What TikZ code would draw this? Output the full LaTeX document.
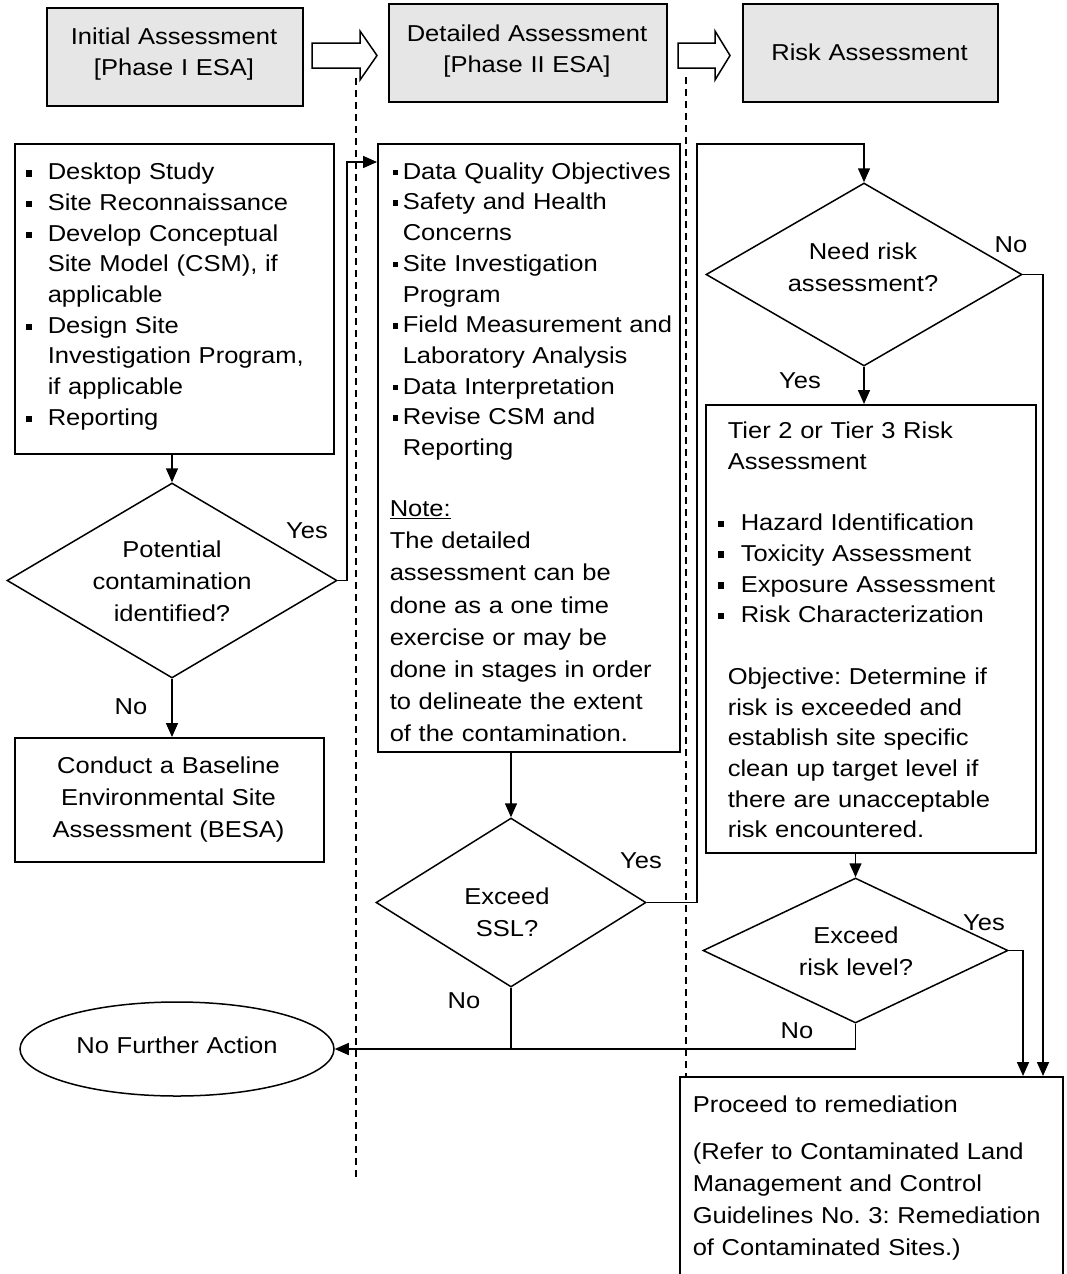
\documentclass[tikz,border=0pt]{standalone}
\usepackage{fontspec}
\setmainfont{Liberation Sans}[FakeStretch=1.11]
\usetikzlibrary{shapes.geometric,arrows.meta,calc}
\definecolor{hdrgray}{RGB}{230,230,230}
\frenchspacing
\newcommand{\fs}{\rule{0pt}{18pt}}
\newcommand{\bulA}{\noindent\hangindent=22pt\hangafter=1\makebox[22pt][l]{\rule[3pt]{6.5pt}{6.5pt}}}
\newcommand{\bulB}{\noindent\hangindent=10pt\hangafter=1\makebox[10pt][l]{\rule[4pt]{5.5pt}{5.5pt}}}
\newcommand{\bulD}{\noindent\makebox[23pt][l]{\rule[3.5pt]{6.5pt}{6.5pt}}}
\begin{document}
\begin{tikzpicture}[x=1pt,y=-1pt,
  line width=1.5pt,
  box/.style={draw, line width=1.5pt, rectangle, inner sep=0pt, anchor=north west},
  hdr/.style={box, fill=hdrgray},
  dia/.style={draw, line width=1.5pt, diamond, inner sep=0pt},
  txt/.style={inner sep=0pt, align=left, anchor=north west, text width=400pt, font=\frenchspacing\fontsize{23}{30.7}\selectfont},
  ctxt/.style={inner sep=0pt, align=center, anchor=north, text width=340pt, font=\frenchspacing\fontsize{23}{32}\selectfont},
  lbl/.style={inner sep=0pt, anchor=base, font=\fontsize{23}{28}\selectfont},
  arr/.style={-{Triangle[width=12pt,length=14pt]}},
  sep/.style={dash pattern=on 7pt off 5pt, line width=1.4pt},
  blk/.style={draw, fill=white, line width=1.5pt, line join=miter}
]
\useasboundingbox (0,0) rectangle (1066,1274);
\fill[white] (0,0) rectangle (1066,1274);
\clip (0,0) rectangle (1066,1274);

% phase separators
\draw[sep] (356,78) -- (356,1177);
\draw[sep] (686,77) -- (686,1076);

% header boxes
\node[hdr, minimum width=256pt, minimum height=98pt] (H1) at (46,7) {};
\node[hdr, minimum width=278pt, minimum height=98pt] (H2) at (388,3) {};
\node[hdr, minimum width=255pt, minimum height=98pt] (H3) at (742,3) {};
\node[ctxt, font=\fontsize{23}{31}\selectfont] (H1t) at (174,26) {\fs Initial Assessment\\{}[Phase I ESA]};
\node[ctxt, font=\fontsize{23}{31}\selectfont] (H2t) at (527,23) {\fs Detailed Assessment\\{}[Phase II ESA]};
\node[ctxt] (H3t) at (869.5,42) {\fs Risk Assessment};

% block arrows
\draw[blk] (312,43) -- (360,43) -- (360,31) -- (377,55.5) -- (360,80) -- (360,68) -- (312,68) -- cycle;
\draw[blk] (678,43) -- (715,43) -- (715,31) -- (730,55.5) -- (715,80) -- (715,68) -- (678,68) -- cycle;

% column 1
\node[box, minimum width=319pt, minimum height=310pt] (A) at (14,143) {};
\node[txt] (At) at (25,161) {%
\bulA\fs Desktop Study\par
\bulA Site Reconnaissance\par
\bulA Develop Conceptual\newline Site Model (CSM), if\newline applicable\par
\bulA Design Site\newline Investigation Program,\newline if applicable\par
\bulA Reporting\par};

\node[dia, minimum width=330pt, minimum height=195pt] (d1) at (172,580.5) {};
\node[ctxt] (d1t) at (172,539) {\fs Potential\\ contamination\\ identified?};

\node[box, minimum width=309pt, minimum height=124pt] (C) at (14,737) {};
\node[ctxt] (Ct) at (168.5,755) {\fs Conduct a Baseline\\ Environmental Site\\ Assessment (BESA)};

\node[draw, ellipse, line width=1.5pt, inner sep=0pt, minimum width=314pt, minimum height=94pt] (E) at (177,1049) {};
\node[ctxt] (Et) at (177,1035) {\fs No Further Action};

% column 2
\node[box, minimum width=302pt, minimum height=608pt] (B) at (377,143) {};
\node[txt] (Bt) at (392,160.5) {%
\bulB\fs Data Quality Objectives\par
\bulB Safety and Health\newline Concerns\par
\bulB Site Investigation\newline Program\par
\bulB Field Measurement and\newline Laboratory Analysis\par
\bulB Data Interpretation\par
\bulB Revise CSM and\newline Reporting\par};
\node[txt, font=\frenchspacing\fontsize{23}{32.1}\selectfont] (Bn) at (389,498) {%
\fs\underline{Note:}\newline The detailed\newline assessment can be\newline done as a one time\newline exercise or may be\newline done in stages in order\newline to delineate the extent\newline of the contamination.\par};

\node[dia, minimum width=270pt, minimum height=169pt] (d2) at (511,902.5) {};
\node[ctxt] (d2t) at (507,886) {\fs Exceed\\ SSL?};

% column 3
\node[dia, minimum width=316pt, minimum height=183pt] (d3) at (864,274.5) {};
\node[ctxt] (d3t) at (863,241) {\fs Need risk\\ assessment?};

\node[box, minimum width=330pt, minimum height=448pt] (D) at (705,404) {};
\node[txt] (Dt1) at (727,420) {\fs Tier 2 or Tier 3 Risk\newline Assessment\par};
\node[txt] (Dt2) at (717,512) {%
\bulD\fs Hazard Identification\par
\bulD Toxicity Assessment\par
\bulD Exposure Assessment\par
\bulD Risk Characterization\par};
\node[txt] (Dt3) at (727,665.6) {\fs Objective: Determine if\newline risk is exceeded and\newline establish site specific\newline clean up target level if\newline there are unacceptable\newline risk encountered.\par};

\node[dia, minimum width=305pt, minimum height=145pt] (d4) at (855.5,950.5) {};
\node[ctxt] (d4t) at (856,925) {\fs Exceed\\ risk level?};

\node[box, minimum width=383pt, minimum height=260pt] (P) at (679,1076) {};
\node[txt] (Pt1) at (692,1094) {\fs Proceed to remediation\par};
\node[txt, font=\frenchspacing\fontsize{23}{32}\selectfont] (Pt2) at (692,1141) {\fs (Refer to Contaminated Land\newline Management and Control\newline Guidelines No. 3: Remediation\newline of Contaminated Sites.)\par};

% connectors
\coordinate (y1) at (347,162);
\coordinate (y2) at (697,144);
\coordinate (pinA) at (1023,0);
\coordinate (pinB) at (1043,0);

\draw[arr] (d1.north |- A.south) -- (d1.north);
\draw[arr] (d1.south) -- (d1.south |- C.north);
\draw[arr] (d1.east) -| (y1) -- (y1 -| B.west);
\draw[arr] (d2.north |- B.south) -- (d2.north);
\draw[arr] (d2.east) -| (y2) -| (d3.north);
\draw[arr] (d3.east) -| (pinB |- P.north);
\draw[arr] (d3.south) -- (d3.south |- D.north);
\draw[arr] (d4.north |- D.south) -- (d4.north);
\draw[arr] (d4.east) -| (pinA |- P.north);
\draw[arr] (d4.south) |- (E.east);
\draw (d2.south) -- (d2.south |- E.east);

% labels
\node[lbl] (ly1) at (307,538) {Yes};
\node[lbl] (ln1) at (131,714) {No};
\node[lbl] (ly2) at (641,868) {Yes};
\node[lbl] (ln2) at (464,1008) {No};
\node[lbl] (ln3) at (1011,252) {No};
\node[lbl] (ly3) at (800,388) {Yes};
\node[lbl] (ly4) at (984,930) {Yes};
\node[lbl] (ln4) at (797,1038) {No};
\end{tikzpicture}
\end{document}
